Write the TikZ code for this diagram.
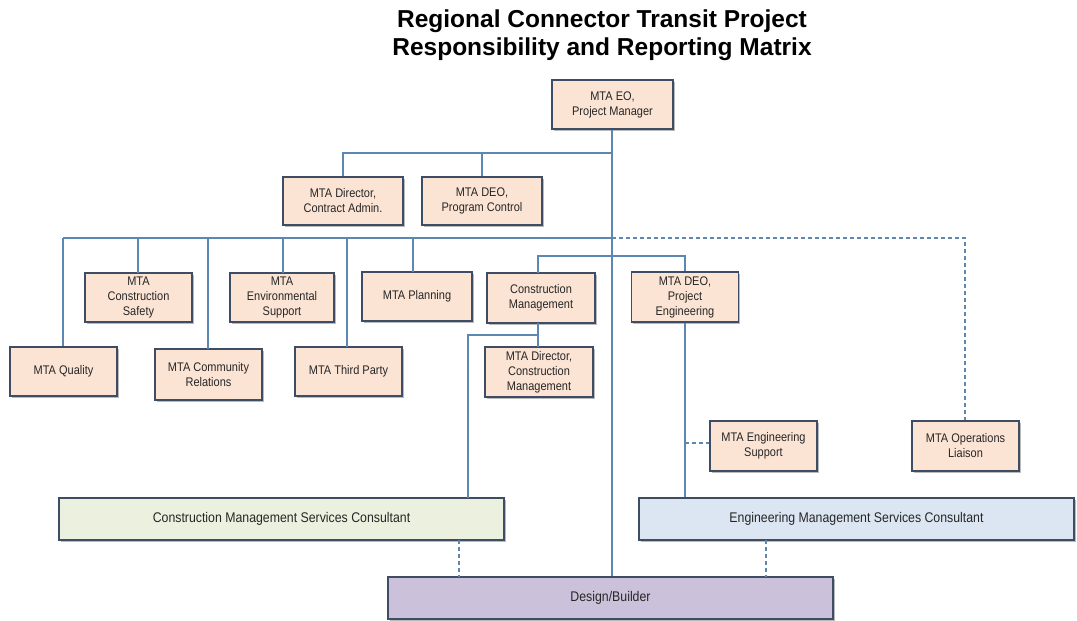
\documentclass[tikz,border=0pt]{standalone}
\usepackage{fontspec}
\setmainfont{Liberation Sans}
\newfontfamily\boxfont[FakeStretch=0.88]{Liberation Sans}
\usetikzlibrary{shadows}
\definecolor{peach}{HTML}{FCE4D4}
\definecolor{boxline}{HTML}{3E4C64}
\definecolor{conn}{HTML}{5B87B0}
\definecolor{cmscfill}{HTML}{EBF1DE}
\definecolor{emscfill}{HTML}{DCE6F2}
\definecolor{dbfill}{HTML}{CCC1DA}
\tikzset{
  orgbox/.style={draw=boxline, line width=1.6pt, fill=peach, align=center,
    inner sep=1pt, font=\boxfont\fontsize{12.5}{15}\selectfont, text=black!85,
    drop shadow={shadow xshift=1.5pt, shadow yshift=-1.5pt, fill=black!45, opacity=0.6}},
  wide/.style={orgbox, font=\boxfont\fontsize{14}{16}\selectfont},
  link/.style={draw=conn, line width=1.8pt},
  dlink/.style={draw=conn, line width=1.5pt, dash pattern=on 4pt off 3pt},
}
\begin{document}
\begin{tikzpicture}[x=1pt,y=-1pt]
\useasboundingbox (0,0) rectangle (1077,621);
\node[font=\fontsize{24.5}{28}\selectfont\bfseries, align=center] (title) at (602,35)
  {Regional Connector Transit Project\\Responsibility and Reporting Matrix};

% nodes
\node[orgbox, minimum width=121pt, minimum height=49pt] (eo) at (612.5,104.5) {MTA EO,\\Project Manager};
\node[orgbox, minimum width=120pt, minimum height=48pt] (dirca) at (343,201) {MTA Director,\\Contract Admin.};
\node[orgbox, minimum width=120pt, minimum height=48pt] (deopc) at (482,201) {MTA DEO,\\Program Control};
\node[orgbox, minimum width=107pt, minimum height=49pt] (safety) at (138.5,297.5) {MTA\\Construction\\Safety};
\node[orgbox, minimum width=104pt, minimum height=49pt] (env) at (282,297.5) {MTA\\Environmental\\Support};
\node[orgbox, minimum width=110pt, minimum height=49pt] (plan) at (417,296.5) {MTA Planning};
\node[orgbox, minimum width=107pt, minimum height=49pt] (quality) at (63.5,371.5) {MTA Quality};
\node[orgbox, minimum width=107pt, minimum height=51pt] (comm) at (208.5,374.5) {MTA Community\\Relations};
\node[orgbox, minimum width=107pt, minimum height=49pt] (third) at (348.5,371.5) {MTA Third Party};
\node[orgbox, minimum width=108pt, minimum height=50pt] (cm) at (541,298) {Construction\\Management};
\node[orgbox, minimum width=108pt, minimum height=50pt] (dircm) at (539,372) {MTA Director,\\Construction\\Management};
\node[orgbox, minimum width=107pt, minimum height=50pt] (deope) at (685,297) {MTA DEO,\\Project\\Engineering};
\node[orgbox, minimum width=107pt, minimum height=50pt] (engsup) at (763.5,446) {MTA Engineering\\Support};
\node[orgbox, minimum width=107pt, minimum height=50pt] (ops) at (965.5,446) {MTA Operations\\Liaison};
\node[wide, fill=cmscfill, minimum width=445pt, minimum height=42pt] (cmsc) at (281.5,519) {Construction Management Services Consultant};
\node[wide, fill=emscfill, minimum width=435pt, minimum height=42pt] (emsc) at (856.5,519) {Engineering Management Services Consultant};
\node[wide, fill=dbfill, minimum width=445pt, minimum height=42pt] (db) at (610.5,598) {Design/Builder};

% bus coordinates
\coordinate (top) at (612,153);
\coordinate (bus) at (612,238);
\coordinate (busL) at (63,238);
\coordinate (busR) at (965,238);
\coordinate (cmbus) at (612,256);
\coordinate (cmjoin) at (538,335);

% EO to second level
\draw[link] (eo.south -| top) -- (top) -| (dirca.north);
\draw[link] (top) -| (deopc.north);
% main trunk
\draw[link] (top) -- (bus) -- (bus |- db.north);
% bus
\draw[link] (busL) -- (bus);
\draw[dlink] (bus) -- (busR) -- (busR |- ops.north);
\draw[link] (busL) -- (busL |- quality.north);
\draw[link] (138,238) -- (138,273);
\draw[link] (208,238) -- (208,349);
\draw[link] (283,238) -- (283,273);
\draw[link] (347,238) -- (347,347);
\draw[link] (413,238) -- (413,272);
% CM branch
\draw[link] (538,273) |- (cmbus) -| (deope.north);
\draw[link] (538,323) -- (538,347);
\draw[link] (cmjoin) -| (468,498);
% DEO PE to EMSC
\draw[link] (deope.south) -- (deope.south |- emsc.north);
\draw[dlink] (685,443) -- (engsup.west |- 685,443);
% to design builder
\draw[dlink] (459,540) -- (459,577);
\draw[dlink] (766,540) -- (766,577);
\end{tikzpicture}
\end{document}
